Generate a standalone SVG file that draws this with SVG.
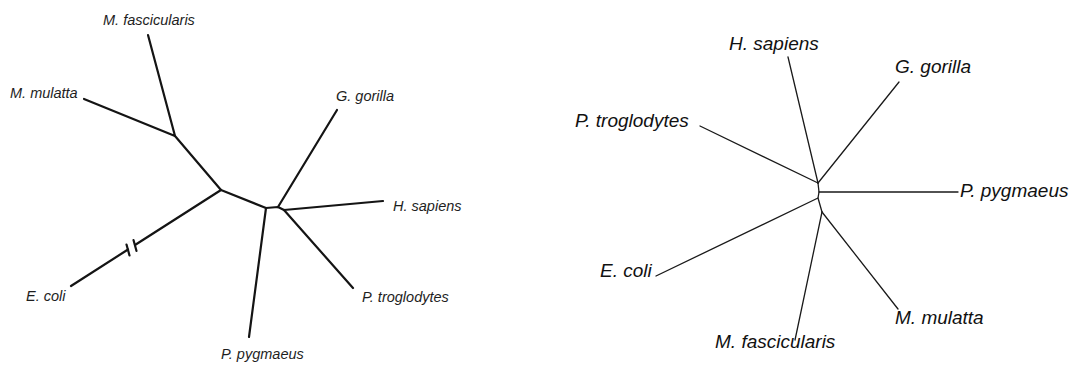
<svg xmlns="http://www.w3.org/2000/svg" width="1072" height="365" viewBox="0 0 1072 365">
  <style>
    .bg { fill: #ffffff; }
    .lt { font-family: "Liberation Sans", Arial, sans-serif; font-style: italic; font-size: 14.5px; fill: #1e1e1e; }
    .rt { font-family: "Liberation Sans", Arial, sans-serif; font-style: italic; font-size: 19px; fill: #111111; }
    .lb { fill: none; stroke: #141414; stroke-width: 2.2; stroke-linecap: round; stroke-linejoin: round; }
    .rb { fill: none; stroke: #1a1a1a; stroke-width: 1.3; stroke-linecap: round; stroke-linejoin: round; }
  </style>
  <rect class="bg" x="0" y="0" width="1072" height="365"/>

  <!-- Left tree: branches -->
  <g id="left-connectors">
    <polyline class="lb" points="148,35 175,136 84,99"/>
    <polyline class="lb" points="175,136 221,190 266,208 278,207 284,210"/>
    <line class="lb" x1="278" y1="207" x2="337" y2="110"/>
    <line class="lb" x1="284" y1="210" x2="383" y2="201"/>
    <line class="lb" x1="284" y1="210" x2="353" y2="288"/>
    <line class="lb" x1="266" y1="208" x2="249" y2="337"/>
    <!-- long E. coli branch, shortened with a break mark -->
    <line class="lb" x1="221" y1="190" x2="135" y2="245"/>
    <line class="lb" x1="128" y1="249.5" x2="71" y2="286"/>
    <line class="lb" x1="133.5" y1="240" x2="136.5" y2="251"/>
    <line class="lb" x1="126.5" y1="244.5" x2="129.5" y2="255.5"/>
  </g>

  <!-- Left tree: taxa -->
  <g id="left-m-fascicularis"><text class="lt" x="103" y="25">M. fascicularis</text></g>
  <g id="left-m-mulatta"><text class="lt" x="10" y="98">M. mulatta</text></g>
  <g id="left-g-gorilla"><text class="lt" x="336" y="101">G. gorilla</text></g>
  <g id="left-h-sapiens"><text class="lt" x="393" y="211">H. sapiens</text></g>
  <g id="left-p-troglodytes"><text class="lt" x="362" y="302">P. troglodytes</text></g>
  <g id="left-p-pygmaeus"><text class="lt" x="221" y="359">P. pygmaeus</text></g>
  <g id="left-e-coli"><text class="lt" x="26" y="301">E. coli</text></g>

  <!-- Right tree: branches -->
  <g id="right-connectors">
    <polyline class="rb" points="818,183 819,192 818,198 822,212"/>
    <line class="rb" x1="818" y1="183" x2="788" y2="57"/>
    <line class="rb" x1="818" y1="183" x2="700" y2="126"/>
    <line class="rb" x1="818" y1="183" x2="899" y2="82"/>
    <line class="rb" x1="819" y1="192" x2="958" y2="192"/>
    <line class="rb" x1="818" y1="198" x2="656" y2="276"/>
    <line class="rb" x1="822" y1="212" x2="795" y2="340"/>
    <line class="rb" x1="822" y1="212" x2="898" y2="309"/>
  </g>

  <!-- Right tree: taxa -->
  <g id="right-h-sapiens"><text class="rt" x="729" y="50">H. sapiens</text></g>
  <g id="right-g-gorilla"><text class="rt" x="895" y="73">G. gorilla</text></g>
  <g id="right-p-troglodytes"><text class="rt" x="575" y="127">P. troglodytes</text></g>
  <g id="right-p-pygmaeus"><text class="rt" x="960" y="197">P. pygmaeus</text></g>
  <g id="right-e-coli"><text class="rt" x="600" y="277">E. coli</text></g>
  <g id="right-m-mulatta"><text class="rt" x="895" y="324">M. mulatta</text></g>
  <g id="right-m-fascicularis"><text class="rt" x="715" y="348">M. fascicularis</text></g>
</svg>
